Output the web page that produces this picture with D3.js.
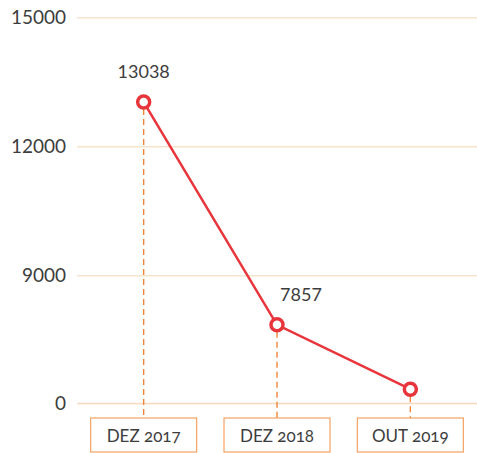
<!DOCTYPE html>
<html>
<head>
<meta charset="utf-8">
<script src="https://cdn.jsdelivr.net/npm/d3@7"></script>
<style>
  body { margin: 0; background: #fff; }
  svg text { font-family: Lato, "Open Sans", sans-serif; fill: #3d3d3d; }
  .onum { font-variant-numeric: oldstyle-nums; font-feature-settings: "onum"; }
</style>
</head>
<body>
<div id="chart"></div>
<script>
// data
const categories = ['DEZ 2017', 'DEZ 2018', 'OUT 2019'];
const values = [13038, 7857, 1700];
const valueLabels = ['13038', '7857', ''];
const yTicks = [0, 9000, 12000, 15000];

const width = 477, height = 453;

const svg = d3.select('#chart')
  .append('svg')
  .attr('width', width)
  .attr('height', height);

// x: point scale, y: broken axis (0 -> 7500 squeezed, linear above)
const x = d3.scalePoint()
  .domain(categories)
  .range([77, 477])
  .padding(0.5);

const y = d3.scaleLinear()
  .domain([0, 7500, 15000])
  .range([403.5, 340.2, 17.7]);

// gridlines
svg.selectAll('.grid')
  .data(yTicks)
  .join('line')
  .attr('x1', 77)
  .attr('x2', width)
  .attr('y1', d => y(d))
  .attr('y2', d => y(d))
  .attr('stroke', d => d === 0 ? '#f9d9bd' : '#f8e3cc')
  .attr('stroke-width', 1.6);

// y labels
svg.selectAll('.ylab')
  .data(yTicks)
  .join('text')
  .attr('x', 66)
  .attr('y', d => y(d))
  .attr('dy', '0.35em')
  .attr('text-anchor', 'end')
  .style('font-size', '19px')
  .text(d => d);

const boxTop = 418, boxH = 34, boxW = 106;

// dashed drop lines
svg.selectAll('.drop')
  .data(values)
  .join('line')
  .attr('x1', (d, i) => x(categories[i]))
  .attr('x2', (d, i) => x(categories[i]))
  .attr('y1', d => y(d) + 7)
  .attr('y2', boxTop)
  .attr('stroke', '#f0853a')
  .attr('stroke-width', 1.4)
  .attr('stroke-dasharray', '6,4');

// category boxes
const box = svg.selectAll('.box')
  .data(categories)
  .join('g')
  .attr('transform', d => `translate(${x(d)},${boxTop})`);

box.append('rect')
  .attr('x', -boxW / 2)
  .attr('y', 0)
  .attr('width', boxW)
  .attr('height', boxH)
  .attr('fill', '#fff')
  .attr('stroke', '#f4a163')
  .attr('stroke-width', 1.2);

box.append('text')
  .attr('class', 'onum')
  .attr('y', boxH / 2 + 1)
  .attr('dy', '0.35em')
  .attr('text-anchor', 'middle')
  .style('font-size', '17px')
  .text(d => d);

// line
const line = d3.line()
  .x((d, i) => x(categories[i]))
  .y(d => y(d));

svg.append('path')
  .datum(values)
  .attr('d', line)
  .attr('fill', 'none')
  .attr('stroke', '#e8353b')
  .attr('stroke-width', 2.5);

svg.selectAll('.pt')
  .data(values)
  .join('circle')
  .attr('cx', (d, i) => x(categories[i]))
  .attr('cy', d => y(d))
  .attr('r', 6)
  .attr('fill', '#fff')
  .attr('stroke', '#e8353b')
  .attr('stroke-width', 3.5);

// value labels
const labelDx = [0, 24, 0];
svg.selectAll('.vlab')
  .data(values)
  .join('text')
  .attr('x', (d, i) => x(categories[i]) + labelDx[i])
  .attr('y', d => y(d) - 24)
  .attr('text-anchor', 'middle')
  .style('font-size', '18px')
  .text((d, i) => valueLabels[i]);
</script>
</body>
</html>
